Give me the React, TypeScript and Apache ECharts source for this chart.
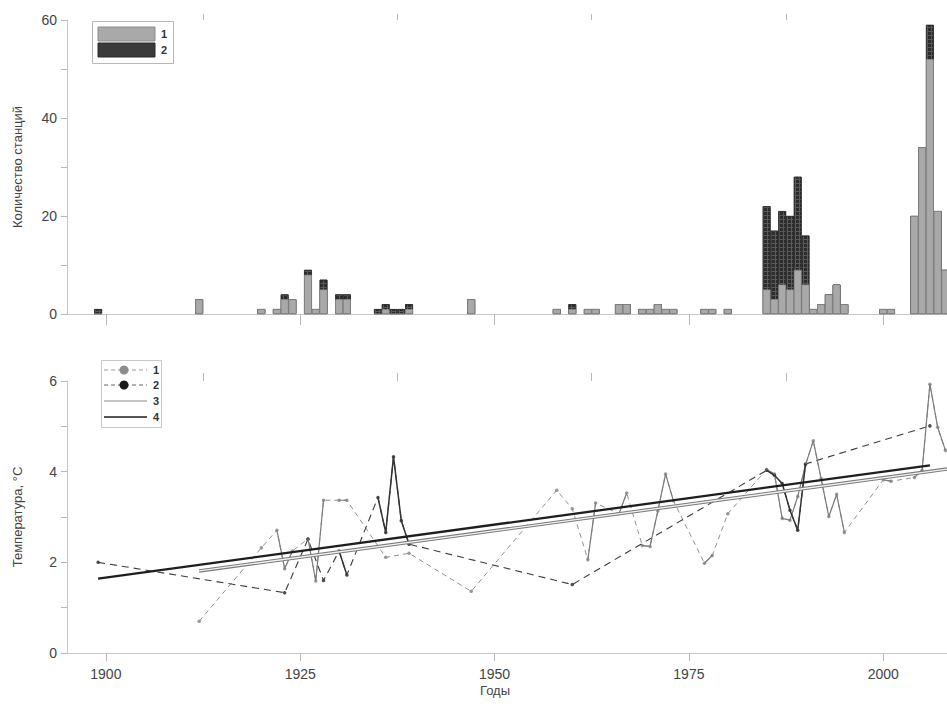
import React, { useEffect, useRef } from 'react';
import * as echarts from 'echarts';

// ---- Top chart: number of stations ----
const barYears = [1899, 1912, 1920, 1922, 1923, 1924, 1926, 1927, 1928, 1930, 1931, 1935, 1936, 1937, 1938, 1939, 1947, 1958, 1960, 1962, 1963, 1966, 1967, 1969, 1970, 1971, 1972, 1973, 1977, 1978, 1980, 1985, 1986, 1987, 1988, 1989, 1990, 1991, 1992, 1993, 1994, 1995, 2000, 2001, 2004, 2005, 2006, 2007, 2008];
const stations1 = [0, 3, 1, 1, 3, 3, 8, 1, 5, 3, 3, 0, 1, 0, 0, 1, 3, 1, 1, 1, 1, 2, 2, 1, 1, 2, 1, 1, 1, 1, 1, 5, 3, 6, 5, 9, 6, 1, 2, 4, 6, 2, 1, 1, 20, 34, 52, 21, 9];
const stations2 = [1, 0, 0, 0, 1, 0, 1, 0, 2, 1, 1, 1, 1, 1, 1, 1, 0, 0, 1, 0, 0, 0, 0, 0, 0, 0, 0, 0, 0, 0, 0, 17, 14, 15, 15, 19, 10, 0, 0, 0, 0, 0, 0, 0, 0, 0, 7, 0, 0];

// ---- Bottom chart: temperature ----
const temp1Years = [1912, 1920, 1922, 1923, 1924, 1926, 1927, 1928, 1930, 1931, 1936, 1939, 1947, 1958, 1960, 1962, 1963, 1966, 1967, 1969, 1970, 1971, 1972, 1973, 1977, 1978, 1980, 1985, 1986, 1987, 1988, 1989, 1990, 1991, 1992, 1993, 1994, 1995, 2000, 2001, 2004, 2005, 2006, 2007, 2008];
const temp1Values = [0.70, 2.32, 2.71, 1.86, 2.25, 2.52, 1.59, 3.37, 3.37, 3.37, 2.11, 2.20, 1.36, 3.59, 3.18, 2.06, 3.31, 3.07, 3.53, 2.37, 2.35, 3.13, 3.95, 3.36, 1.98, 2.15, 3.07, 4.05, 3.95, 2.97, 2.93, 3.45, 4.15, 4.68, 3.85, 3.01, 3.50, 2.66, 3.82, 3.79, 3.87, 4.03, 5.93, 4.98, 4.47];
const temp2Years = [1899, 1923, 1926, 1928, 1930, 1931, 1935, 1936, 1937, 1938, 1939, 1960, 1985, 1986, 1987, 1988, 1989, 1990, 2006];
const temp2Values = [2.00, 1.33, 2.51, 1.60, 2.25, 1.72, 3.43, 2.66, 4.33, 2.92, 2.40, 1.51, 4.03, 3.92, 3.74, 3.15, 2.71, 4.17, 5.01];

const trend3Years = [1912, 2010];
const trend3Values = [1.81, 4.10];
const trend4Years = [1899, 2006];
const trend4Values = [1.64, 4.14];

const majorYearTicks = [1900, 1925, 1950, 1975, 2000];
const minorYearTicks = [1912.5, 1937.5, 1962.5, 1987.5];
const stationLabels = [0, 20, 40, 60];
const tempLabels = [0, 2, 4, 6];

const FONT = 'Liberation Sans, Arial, sans-serif';

function pairs(xs: number[], ys: number[]) {
  return xs.map((x, i) => [x, ys[i]]);
}

function solidSegments(xs: number[], ys: number[]) {
  const out: any[] = [];
  for (let i = 0; i < xs.length; i++) {
    if (i > 0 && xs[i] - xs[i - 1] > 1) out.push([xs[i - 1] + 0.5, '-']);
    out.push([xs[i], ys[i]]);
  }
  return out;
}

export default function App() {
  const ref = useRef<HTMLDivElement>(null);

  useEffect(() => {
    if (!ref.current) return;
    const chart = echarts.init(ref.current, undefined, { renderer: 'svg' });

    const axisLineStyle = { color: '#c8c8c8', width: 1 };
    const tickStyle = { color: '#b8b8b8', width: 1 };
    const xMin = 1895;
    const xMax = 2008.2;

    const xAxisBase = (gridIndex: number) => ({
      type: 'value',
      gridIndex,
      min: xMin,
      max: xMax,
      splitLine: { show: false },
    });

    // totals (light + dark) drawn behind, light drawn in front -> stacked look
    const totals = stations1.map((v, i) => v + stations2[i]);

    const darkDecal = {
      symbol: 'rect',
      symbolSize: 1,
      color: '#2c2c2c',
      dashArrayX: [2.2, 0.8],
      dashArrayY: [2.2, 0.8],
      rotation: 0,
    };

    const option: any = {
      animation: false,
      backgroundColor: '#ffffff',
      grid: [
        { left: 67, top: 20, right: 0, height: 294 },
        { left: 67, top: 381, right: 0, height: 272 },
      ],
      xAxis: [
        {
          ...xAxisBase(0),
          axisLine: { show: true, lineStyle: axisLineStyle },
          axisTick: { show: true, length: 11, lineStyle: tickStyle, customValues: majorYearTicks },
          axisLabel: { show: false },
        },
        {
          ...xAxisBase(0),
          axisLine: { show: false },
          axisTick: { show: true, length: 6, lineStyle: tickStyle, customValues: minorYearTicks },
          axisLabel: { show: false },
        },
        {
          ...xAxisBase(1),
          axisLine: { show: true, lineStyle: axisLineStyle },
          axisTick: { show: true, length: 8, lineStyle: tickStyle, customValues: majorYearTicks },
          axisLabel: {
            show: true,
            customValues: majorYearTicks,
            formatter: (v: number) => String(v),
            color: '#444',
            fontSize: 14,
            fontFamily: FONT,
            margin: 14,
          },
        },
        {
          ...xAxisBase(1),
          axisLine: { show: false },
          axisTick: { show: true, length: 8, lineStyle: tickStyle, customValues: minorYearTicks },
          axisLabel: { show: false },
        },
      ],
      yAxis: [
        {
          type: 'value',
          gridIndex: 0,
          min: 0,
          max: 60,
          interval: 10,
          splitLine: { show: false },
          axisLine: { show: true, lineStyle: axisLineStyle },
          axisTick: { show: true, length: 6, lineStyle: tickStyle },
          axisLabel: {
            color: '#444',
            fontSize: 14,
            fontFamily: FONT,
            margin: 10,
            customValues: stationLabels,
            formatter: (v: number) => String(v),
          },
          name: 'Количество станций',
          nameLocation: 'middle',
          nameGap: 43,
          nameTextStyle: { color: '#444', fontSize: 13, fontFamily: FONT },
        },
        {
          type: 'value',
          gridIndex: 1,
          min: 0,
          max: 6,
          interval: 1,
          splitLine: { show: false },
          axisLine: { show: true, lineStyle: axisLineStyle },
          axisTick: { show: true, length: 6, lineStyle: tickStyle },
          axisLabel: {
            color: '#444',
            fontSize: 14,
            fontFamily: FONT,
            margin: 10,
            customValues: tempLabels,
            formatter: (v: number) => String(v),
          },
          name: 'Температура, °С',
          nameLocation: 'middle',
          nameGap: 43,
          nameTextStyle: { color: '#444', fontSize: 13, fontFamily: FONT },
        },
      ],
      series: [
        {
          type: 'bar',
          name: '2',
          xAxisIndex: 0,
          yAxisIndex: 0,
          barWidth: 7.77,
          barGap: '-100%',
          data: pairs(barYears, totals),
          itemStyle: { color: '#5a5a5a', borderColor: '#2a2a2a', borderWidth: 0.7, decal: darkDecal },
          silent: true,
        },
        {
          type: 'bar',
          name: '1',
          xAxisIndex: 0,
          yAxisIndex: 0,
          barWidth: 7.77,
          barGap: '-100%',
          data: pairs(barYears, stations1),
          itemStyle: { color: '#a9a9a9', borderColor: '#8c8c8c', borderWidth: 0.7 },
          silent: true,
        },
        // dashed connections (across gaps)
        {
          type: 'line',
          xAxisIndex: 2,
          yAxisIndex: 1,
          data: pairs(temp1Years, temp1Values),
          symbol: 'none',
          lineStyle: { color: '#909090', width: 1, type: [5, 4] },
          silent: true,
        },
        {
          type: 'line',
          xAxisIndex: 2,
          yAxisIndex: 1,
          data: pairs(temp2Years, temp2Values),
          symbol: 'none',
          lineStyle: { color: '#3c3c3c', width: 1.1, type: [7, 5] },
          silent: true,
        },
        // solid connections (consecutive years)
        {
          type: 'line',
          xAxisIndex: 2,
          yAxisIndex: 1,
          data: solidSegments(temp1Years, temp1Values),
          symbol: 'none',
          connectNulls: false,
          lineStyle: { color: '#7c7c7c', width: 1.2 },
          silent: true,
        },
        {
          type: 'line',
          xAxisIndex: 2,
          yAxisIndex: 1,
          data: solidSegments(temp2Years, temp2Values),
          symbol: 'none',
          connectNulls: false,
          lineStyle: { color: '#333333', width: 1.5 },
          silent: true,
        },
        // trend lines
        {
          type: 'line',
          xAxisIndex: 2,
          yAxisIndex: 1,
          data: pairs(trend3Years, trend3Values),
          symbol: 'none',
          lineStyle: { color: '#7a7a7a', width: 3.4 },
          silent: true,
        },
        {
          type: 'line',
          xAxisIndex: 2,
          yAxisIndex: 1,
          data: pairs(trend3Years, trend3Values),
          symbol: 'none',
          lineStyle: { color: '#f2f2f2', width: 1.3 },
          silent: true,
        },
        {
          type: 'line',
          xAxisIndex: 2,
          yAxisIndex: 1,
          data: pairs(trend4Years, trend4Values),
          symbol: 'none',
          lineStyle: { color: '#1e1e1e', width: 2.3 },
          silent: true,
        },
        // markers
        {
          type: 'scatter',
          xAxisIndex: 2,
          yAxisIndex: 1,
          data: pairs(temp1Years, temp1Values),
          symbol: 'circle',
          symbolSize: 3.5,
          itemStyle: { color: '#808080' },
          silent: true,
        },
        {
          type: 'scatter',
          xAxisIndex: 2,
          yAxisIndex: 1,
          data: pairs(temp2Years, temp2Values),
          symbol: 'circle',
          symbolSize: 3.5,
          itemStyle: { color: '#222222' },
          silent: true,
        },
      ],
      graphic: [
        // top legend
        { type: 'rect', shape: { x: 92.5, y: 21.5, width: 81, height: 42 }, style: { fill: '#fff', stroke: '#b8b8b8', lineWidth: 1 } },
        { type: 'rect', shape: { x: 98, y: 27, width: 57, height: 14 }, style: { fill: '#a9a9a9', stroke: '#8c8c8c', lineWidth: 1 } },
        { type: 'rect', shape: { x: 98, y: 43, width: 57, height: 14 }, style: { fill: '#3a3a3a', stroke: '#2a2a2a', lineWidth: 1 } },
        { type: 'text', x: 161, y: 34, style: { text: '1', fill: '#333', fontSize: 11, fontWeight: 'bold', fontFamily: FONT, verticalAlign: 'middle' } },
        { type: 'text', x: 161, y: 50, style: { text: '2', fill: '#333', fontSize: 11, fontWeight: 'bold', fontFamily: FONT, verticalAlign: 'middle' } },
        // bottom legend
        { type: 'rect', shape: { x: 101.5, y: 360.5, width: 60, height: 67 }, style: { fill: '#fff', stroke: '#c8c8c8', lineWidth: 1 } },
        { type: 'line', shape: { x1: 104, y1: 370, x2: 147, y2: 370 }, style: { stroke: '#9a9a9a', lineWidth: 1, lineDash: [4, 3] } },
        { type: 'circle', shape: { cx: 124, cy: 370, r: 4.5 }, style: { fill: '#8c8c8c' } },
        { type: 'line', shape: { x1: 104, y1: 385, x2: 147, y2: 385 }, style: { stroke: '#666', lineWidth: 1, lineDash: [4, 3] } },
        { type: 'circle', shape: { cx: 124, cy: 385, r: 4.5 }, style: { fill: '#1a1a1a' } },
        { type: 'line', shape: { x1: 104, y1: 401, x2: 147, y2: 401 }, style: { stroke: '#888', lineWidth: 1 } },
        { type: 'line', shape: { x1: 104, y1: 417, x2: 147, y2: 417 }, style: { stroke: '#555', lineWidth: 2 } },
        { type: 'text', x: 153, y: 370, style: { text: '1', fill: '#333', fontSize: 11, fontWeight: 'bold', fontFamily: FONT, verticalAlign: 'middle' } },
        { type: 'text', x: 153, y: 385, style: { text: '2', fill: '#333', fontSize: 11, fontWeight: 'bold', fontFamily: FONT, verticalAlign: 'middle' } },
        { type: 'text', x: 153, y: 401, style: { text: '3', fill: '#333', fontSize: 11, fontWeight: 'bold', fontFamily: FONT, verticalAlign: 'middle' } },
        { type: 'text', x: 153, y: 417, style: { text: '4', fill: '#333', fontSize: 11, fontWeight: 'bold', fontFamily: FONT, verticalAlign: 'middle' } },
        // x axis title
        { type: 'text', x: 495, y: 690, style: { text: 'Годы', fill: '#444', fontSize: 13, fontFamily: FONT, align: 'center', verticalAlign: 'middle' } },
      ],
    };

    chart.setOption(option);
    return () => chart.dispose();
  }, []);

  return (
    <div
      ref={ref}
      style={{ position: 'fixed', left: 0, top: 0, width: 947, height: 708, background: '#fff' }}
    />
  );
}
